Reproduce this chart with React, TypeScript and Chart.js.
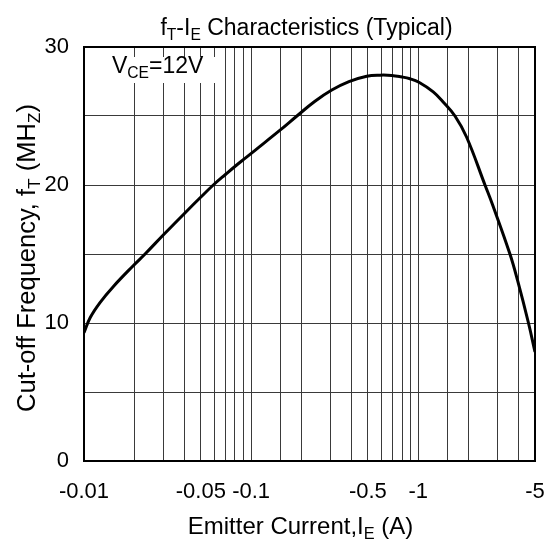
import React, { useEffect, useRef } from "react";
import { Chart, registerables } from "chart.js";

Chart.register(...registerables);

// Emitter current magnitude (A); the axis shows it as negative values
const emitterCurrentA = [
  0.01, 0.0109, 0.0125, 0.015, 0.0197, 0.0232, 0.0301, 0.0406, 0.0499,
  0.0594, 0.0705, 0.082, 0.0919, 0.1065, 0.149, 0.188, 0.24, 0.304, 0.385, 0.492,
  0.591, 0.694, 0.789, 0.893, 1.01, 1.23, 1.41, 1.66, 1.95, 2.51,
  2.79, 3.54, 3.94, 4.57, 5,
];
// Cut-off frequency fT (MHz)
const cutoffFreqMHz = [
  9.3, 10.4, 11.5, 12.65, 14.15, 15.0, 16.43, 18.03, 19.11,
  20.0, 20.78, 21.45, 21.93, 22.55, 23.97, 25.0, 26.05, 26.88, 27.49, 27.88,
  27.96, 27.94, 27.84, 27.7, 27.45, 26.75, 26.02, 25.0, 23.46, 20.0,
  18.55, 15.0, 13.05, 10.0, 7.9,
];
const xLabeledTicks = [0.01, 0.05, 0.1, 0.5, 1, 5];
const yLabeledTicks = [0, 10, 20, 30];

type Part = { t: string; sub?: boolean };
const titleParts: Part[] = [
  { t: "f" }, { t: "T", sub: true }, { t: "-I" }, { t: "E", sub: true },
  { t: " Characteristics (Typical)" },
];
const xTitleParts: Part[] = [
  { t: "Emitter Current,I" }, { t: "E", sub: true }, { t: " (A)" },
];
const yTitleParts: Part[] = [
  { t: "Cut-off Frequency, f" }, { t: "T", sub: true }, { t: " (MH" },
  { t: "Z", sub: true }, { t: ")" },
];
const conditionParts: Part[] = [
  { t: "V" }, { t: "CE", sub: true }, { t: "=12V" },
];

const FONT = "'Liberation Sans', Arial, Helvetica, sans-serif";

function drawRich(
  ctx: CanvasRenderingContext2D,
  parts: Part[],
  x: number,
  y: number,
  size: number,
  align: "left" | "center"
) {
  const subSize = size * 0.68;
  const widths = parts.map((p) => {
    ctx.font = `${p.sub ? subSize : size}px ${FONT}`;
    return ctx.measureText(p.t).width;
  });
  const total = widths.reduce((a, b) => a + b, 0);
  let cx = align === "center" ? x - total / 2 : x;
  ctx.textAlign = "left";
  ctx.textBaseline = "alphabetic";
  parts.forEach((p, i) => {
    ctx.font = `${p.sub ? subSize : size}px ${FONT}`;
    ctx.fillText(p.t, cx, p.sub ? y + size * 0.2 : y);
    cx += widths[i];
  });
}

const decorPlugin = {
  id: "decor",
  beforeDatasetsDraw(chart: any) {
    const { ctx, chartArea: a } = chart;
    ctx.save();
    ctx.strokeStyle = "#000";
    ctx.lineWidth = 2;
    ctx.strokeRect(a.left, a.top, a.right - a.left, a.bottom - a.top);
    // label background
    ctx.fillStyle = "#fff";
    ctx.fillRect(a.left + 20, a.top + 10, 114, 26);
    ctx.fillStyle = "#000";
    drawRich(ctx, conditionParts, a.left + 28, a.top + 26, 23, "left");
    ctx.restore();
  },
  afterDraw(chart: any) {
    const { ctx, chartArea: a } = chart;
    ctx.save();
    ctx.fillStyle = "#000";
    const cx = (a.left + a.right) / 2;
    drawRich(ctx, titleParts, cx - 3, a.top - 12, 23, "center");
    drawRich(ctx, xTitleParts, cx - 9, a.bottom + 73, 24, "center");
    ctx.translate(35, (a.top + a.bottom) / 2 + 4);
    ctx.rotate(-Math.PI / 2);
    drawRich(ctx, yTitleParts, 0, 0, 25.5, "center");
    ctx.restore();
  },
};

function isNear(v: number, list: number[]) {
  return list.some((t) => Math.abs(v - t) <= t * 1e-6 + 1e-12);
}

export default function App() {
  const ref = useRef<HTMLCanvasElement | null>(null);
  useEffect(() => {
    if (!ref.current) return;
    const chart = new Chart(ref.current, {
      type: "line",
      data: {
        datasets: [
          {
            data: emitterCurrentA.map((x, i) => ({ x, y: cutoffFreqMHz[i] })),
            borderColor: "#000",
            borderWidth: 3,
            pointRadius: 0,
            tension: 0.4,
            fill: false,
          },
        ],
      },
      options: {
        responsive: false,
        animation: false,
        layout: { padding: { left: 0, right: 9, top: 47, bottom: 0 } },
        plugins: { legend: { display: false }, tooltip: { enabled: false } },
        scales: {
          x: {
            type: "logarithmic",
            min: 0.01,
            max: 5,
            grid: { color: "#3a3a3a", lineWidth: 1, drawTicks: false },
            border: { display: true, color: "#000", width: 2 },
            ticks: {
              autoSkip: false,
              maxRotation: 0,
              minRotation: 0,
              padding: 18,
              color: "#000",
              font: { family: FONT, size: 22 },
              callback: (v: any) => {
                const n = Number(v);
                return isNear(n, xLabeledTicks) ? "-" + String(+n.toPrecision(3)) : "";
              },
            },
            afterFit: (s: any) => {
              s.height = 78;
              s.paddingLeft = 0;
              s.paddingRight = 0;
            },
          },
          y: {
            type: "linear",
            min: 0,
            max: 30,
            grid: { color: "#3a3a3a", lineWidth: 1, drawTicks: false },
            border: { display: true, color: "#000", width: 2 },
            ticks: {
              stepSize: 5,
              padding: 15,
              color: "#000",
              font: { family: FONT, size: 22 },
              callback: (v: any) => (yLabeledTicks.includes(Number(v)) ? String(v) : ""),
            },
            afterFit: (s: any) => {
              s.width = 84;
              s.paddingTop = 0;
              s.paddingBottom = 0;
            },
          },
        },
      },
      plugins: [decorPlugin],
    });
    return () => chart.destroy();
  }, []);
  return (
    <div style={{ position: "absolute", left: 0, top: 0, width: 544, height: 539, background: "#fff" }}>
      <canvas ref={ref} width={544} height={539} style={{ display: "block" }} />
    </div>
  );
}
